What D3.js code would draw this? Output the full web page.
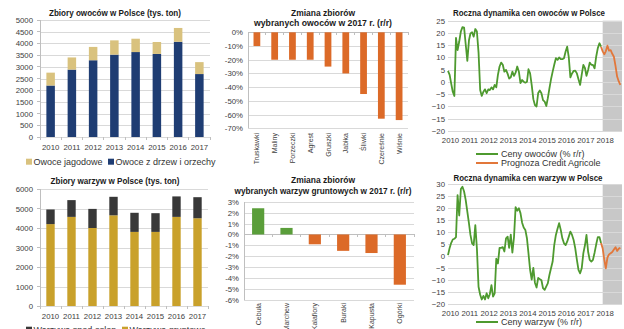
<!DOCTYPE html>
<html>
<head>
<meta charset="utf-8">
<script src="https://cdn.jsdelivr.net/npm/d3@7"></script>
<style>
  body { margin: 0; background: #fff; }
  svg { display: block; font-family: "Liberation Sans", Arial, sans-serif; }
  .grid line { stroke: #d9d9d9; stroke-width: 1; shape-rendering: crispEdges; }
  .grid .domain { display: none; }
  .grid text, .xaxis text { fill: #404040; font-size: 7.8px; }
  .xaxis .domain, .xaxis line { display: none; }
  .title { font-weight: bold; font-size: 9.4px; fill: #1a1a1a; text-anchor: middle; }
  .legend { font-size: 9px; fill: #333; }
  .cat { font-size: 7px; fill: #404040; }
</style>
</head>
<body>
<script>
const W = 624, H = 329;

const years = ["2010", "2011", "2012", "2013", "2014", "2015", "2016", "2017"];

// zbiory, tys. ton
const fruitTrees   = [2200, 2880, 3280, 3520, 3630, 3550, 4070, 2690];
const fruitBerries = [550, 520, 570, 610, 570, 510, 590, 510];
const vegField     = [4200, 4570, 4000, 4650, 3800, 3800, 4570, 4500];
const vegCovered   = [750, 860, 980, 950, 980, 960, 1050, 1080];

// zmiana zbiorów 2017 r/r, %
const fruitKinds  = ["Truskawki", "Maliny", "Porzeczki", "Agrest", "Gruszki", "Jabłka", "Śliwki", "Czereśnie", "Wiśnie"];
const fruitChange = [-10, -20, -20, -20, -25, -30, -45, -63, -64];
const vegKinds  = ["Cebula", "Marchew", "Kalafiory", "Buraki", "Kapusta", "Ogórki"];
const vegChange = [2.4, 0.6, -0.9, -1.5, -1.7, -4.6];

// ceny % r/r, miesięcznie od stycznia 2010
const fruitPrice = [
  4.5, 2.9, -0.5, -4, -5.7, 18, 13, 16.5, 20.6, 22.4, 22.2, 15.5,
  8.6, 17, 19.8, 20.3, 18.5, 21.6, 20.6, 12, -3.3, -5.7, -4, -3,
  -4.6, -3, -3.3, -2.2, -3, -1.2, -2.2, 2.9, 6.3, 7.9, 7, 4.2,
  4.9, 3.3, 1.4, 1.9, 4.2, 2.5, 3.8, 6.3, 4.2, -0.5, 0.8, 0.1,
  -0.3, 0.1, 5.2, 3.5, -1.2, -7, -9.4, -10, -4.5, -3.5, -4.6, -7.4,
  -8, -9.8, -6.7, -2.6, 1.1, 4.2, 7, 9.7, 9, 10, 9.3, 9.3,
  9.7, 12.4, 14.4, 10, 1.9, 3.5, 4.5, 4.6, 3.5, 1.1, -1.2, 3,
  7, 5.6, 2.5, 4.9, 7.9, 7, 7, 5.6, 10.4, 13.8, 15.8, 14.4
];
const fruitForecast = [12.5, 11.3, 12.5, 14.8, 12.8, 13, 11.5, 10.3, 6.5, 2.2, 0.2, -1.2];

const vegPrice = [
  0.5, 3.5, 5.5, 7, 7.3, 8, 25.5, 17, 28, 29, 27, 23.5,
  18.6, 13.7, 8.9, 5.4, 4.7, 13, 3.3, -12.7, -16, -18, -16.5, -18,
  -15.4, -17.5, -15.8, -12, -16.8, -15.4, -1, -3, 3.5, 3.5, 3.8, 2,
  7.5, 8.2, 3.5, 9, 1.5, 8, 20.5, 19, 20, 18, 14, 12,
  11, 7.4, 1.3, -5.6, -9.7, -4.8, -11, -13, -9, -9.5, -10, -13.3,
  -14, -12.5, -11.3, -7.8, -5, -2.2, 4.7, 8.9, 11.5, 13.8, 11, 7.5,
  5.4, 4.7, 6.1, 8.2, 10.3, 8.9, 6.8, 3.3, -1.5, -5.7, -7.1, -5,
  1.3, 4.7, 8.9, 1.9, -1.5, -2.2, -1.5, 1.5, 5, 8, 8, 5.5
];
const vegForecast = [3.3, -1.5, -5, -0.5, 0.8, 1.3, 1.8, 2.8, 3.8, 2.2, 3.2, 3.5];

const months = d3.timeMonth.range(new Date(2010, 0, 1), new Date(2018, 0, 1));
const forecastMonths = d3.timeMonth.range(new Date(2018, 0, 1), new Date(2019, 0, 1));

const NAVY = "#1f3d73", TAN = "#d9c27e", COAL = "#383838", GOLD = "#c9a12b";
const ORANGE = "#dc6a28", GREEN = "#5a9e3a", LINE_GREEN = "#4e9a2f", LINE_ORANGE = "#e2773a";

const svg = d3.select("body").append("svg")
  .attr("width", W)
  .attr("height", H);

// titles are squeezed to a fixed width to keep the condensed look
function title(lines, widths, cx, y0) {
  lines.forEach((t, i) => {
    svg.append("text").attr("class", "title")
      .attr("x", cx).attr("y", y0 + i * 10.5)
      .attr("textLength", widths[i]).attr("lengthAdjust", "spacingAndGlyphs")
      .text(t);
  });
}

// stacked column chart of yearly harvest
function harvestChart(o) {
  const x = d3.scaleBand().domain(years).range([o.left, o.right])
    .paddingInner(0.6).paddingOuter(0.3);
  const y = d3.scaleLinear().domain([0, o.max]).range([o.bottom, o.top]);

  svg.append("g").attr("class", "grid")
    .attr("transform", `translate(${o.left},0)`)
    .call(d3.axisLeft(y).tickValues(d3.range(0, o.max + 1, o.step))
      .tickSize(-(o.right - o.left)).tickPadding(7).tickFormat(d3.format("d")));

  // axis line on the left with small ticks
  const ax = svg.append("g").attr("stroke", "#bfbfbf").attr("shape-rendering", "crispEdges");
  ax.append("line").attr("x1", o.left).attr("x2", o.left).attr("y1", o.top).attr("y2", o.bottom);
  ax.selectAll(".yt").data(d3.range(0, o.max + 1, o.step)).join("line")
    .attr("x1", o.left - 3).attr("x2", o.left).attr("y1", d => y(d)).attr("y2", d => y(d));
  ax.selectAll(".xt").data(d3.range(years.length + 1)).join("line")
    .attr("x1", i => o.left + i * x.step()).attr("x2", i => o.left + i * x.step())
    .attr("y1", o.bottom).attr("y2", o.bottom + 3);

  const rows = years.map((yr, i) => ({ year: yr, base: o.base[i], extra: o.extra[i] }));
  const series = d3.stack().keys(["base", "extra"])(rows);

  svg.append("g").selectAll("g").data(series).join("g")
    .attr("fill", (d, i) => i ? o.extraColor : o.baseColor)
    .selectAll("rect").data(d => d).join("rect")
    .attr("x", d => x(d.data.year))
    .attr("width", x.bandwidth())
    .attr("y", d => y(d[1]))
    .attr("height", d => y(d[0]) - y(d[1]));

  svg.append("g").attr("class", "xaxis")
    .attr("transform", `translate(0,${o.bottom})`)
    .call(d3.axisBottom(x).tickSize(0).tickPadding(7));

  title([o.title], [o.titleW], o.titleX, o.titleY);

  o.legend.forEach(l => {
    svg.append("rect").attr("x", l.x).attr("y", o.legendY - 6.3)
      .attr("width", 6).attr("height", 6).attr("fill", l.color);
    svg.append("text").attr("class", "legend")
      .attr("x", l.x + 7.5).attr("y", o.legendY).text(l.label);
  });
}

// column chart of change in harvest, categories rotated
function changeChart(o) {
  const x = d3.scaleBand().domain(o.kinds).range([o.left, o.right])
    .paddingInner(o.pad).paddingOuter(o.pad / 2);
  const y = d3.scaleLinear().domain([o.min, o.max]).range([o.bottom, o.top]);

  svg.append("g").attr("class", "grid")
    .attr("transform", `translate(${o.left},0)`)
    .call(d3.axisLeft(y).tickValues(d3.range(o.min, o.max + 0.001, o.step))
      .tickSize(-(o.right - o.left)).tickPadding(5).tickFormat(d => `${d}%`));

  const ax = svg.append("g").attr("stroke", "#bfbfbf").attr("shape-rendering", "crispEdges");
  ax.append("line").attr("x1", o.left).attr("x2", o.left).attr("y1", o.top).attr("y2", o.bottom);
  ax.append("line").attr("x1", o.left).attr("x2", o.right).attr("y1", y(0)).attr("y2", y(0));
  ax.selectAll(".xt").data(d3.range(o.kinds.length + 1)).join("line")
    .attr("x1", i => o.left + i * x.step()).attr("x2", i => o.left + i * x.step())
    .attr("y1", y(0)).attr("y2", y(0) + 3);

  svg.append("g").selectAll("rect").data(o.values).join("rect")
    .attr("x", (d, i) => x(o.kinds[i]))
    .attr("width", x.bandwidth())
    .attr("y", d => y(Math.max(0, d)))
    .attr("height", d => Math.abs(y(d) - y(0)))
    .attr("fill", d => d >= 0 ? GREEN : ORANGE);

  svg.append("g").selectAll("text").data(o.kinds).join("text")
    .attr("class", "cat")
    .attr("text-anchor", "end")
    .attr("transform", d => `translate(${x(d) + x.bandwidth() / 2 + 2.5},${o.labelY}) rotate(-90)`)
    .text(d => d);

  title(o.title, o.titleW, o.titleX, o.titleY);
}

// monthly price dynamics with 2018 forecast
function priceChart(o) {
  const x = d3.scaleTime().domain([new Date(2010, 0, 1), new Date(2019, 0, 1)]).range([448, 622]);
  const y = d3.scaleLinear().domain([o.min, o.max]).range([o.bottom, o.top]);

  svg.append("rect")
    .attr("x", x(new Date(2018, 0, 1))).attr("y", o.top)
    .attr("width", x(new Date(2019, 0, 1)) - x(new Date(2018, 0, 1)))
    .attr("height", o.bottom - o.top)
    .attr("fill", "#c8c8c8");

  svg.append("g").attr("class", "grid")
    .attr("transform", "translate(448,0)")
    .call(d3.axisLeft(y).tickValues(d3.range(o.min, o.max + 1, 5))
      .tickSize(-(622 - 448)).tickPadding(3));

  svg.append("g").attr("class", "xaxis")
    .attr("transform", `translate(2,${o.bottom})`)
    .call(d3.axisBottom(x).tickValues(d3.timeYear.range(new Date(2010, 0, 1), new Date(2019, 0, 1)))
      .tickFormat(d3.timeFormat("%Y")).tickSize(0).tickPadding(6));

  const line = d3.line().x(d => x(d.date)).y(d => y(d.value));
  const actual = months.map((m, i) => ({ date: m, value: o.actual[i] }));
  const forecast = [actual[actual.length - 1]]
    .concat(forecastMonths.map((m, i) => ({ date: m, value: o.forecast[i] })));

  svg.append("path").datum(actual).attr("d", line)
    .attr("fill", "none").attr("stroke", LINE_GREEN).attr("stroke-width", 1.8)
    .attr("stroke-linejoin", "round");
  svg.append("path").datum(forecast).attr("d", line)
    .attr("fill", "none").attr("stroke", LINE_ORANGE).attr("stroke-width", 1.8)
    .attr("stroke-linejoin", "round");

  title([o.title], [o.titleW], o.titleX, o.titleY);

  o.legend.forEach(([c, t], i) => {
    const ly = o.legendY + i * 9;
    svg.append("line").attr("x1", 476).attr("x2", 498).attr("y1", ly).attr("y2", ly)
      .attr("stroke", c).attr("stroke-width", 2);
    svg.append("text").attr("class", "legend").attr("x", 501).attr("y", ly + 3).text(t);
  });
}

harvestChart({
  left: 40, right: 210, top: 20, bottom: 137, max: 5000, step: 500,
  base: fruitTrees, extra: fruitBerries, baseColor: NAVY, extraColor: TAN,
  title: "Zbiory owoców w Polsce (tys. ton)", titleW: 132, titleX: 115, titleY: 16,
  legendY: 165,
  legend: [{ x: 26, color: TAN, label: "Owoce jagodowe" }, { x: 108, color: NAVY, label: "Owoce z drzew i orzechy" }]
});

harvestChart({
  left: 40, right: 208, top: 189, bottom: 306, max: 6000, step: 1000,
  base: vegField, extra: vegCovered, baseColor: GOLD, extraColor: COAL,
  title: "Zbiory warzyw w Polsce (tys. ton)", titleW: 129, titleX: 115, titleY: 183.5,
  legendY: 333,
  legend: [{ x: 26, color: COAL, label: "Warzywa spod osłon" }, { x: 122, color: GOLD, label: "Warzywa gruntowe" }]
});

changeChart({
  kinds: fruitKinds, values: fruitChange,
  left: 248, right: 408, top: 32.3, bottom: 128.3, min: -70, max: 0, step: 10, pad: 0.62,
  labelY: 133,
  title: ["Zmiana zbiorów", "wybranych owoców w 2017 r. (r/r)"], titleW: [64, 138],
  titleX: 323, titleY: 15.5
});

changeChart({
  kinds: vegKinds, values: vegChange,
  left: 244, right: 414, top: 201.7, bottom: 300, min: -6, max: 3, step: 1, pad: 0.57,
  labelY: 303,
  title: ["Zmiana zbiorów", "wybranych warzyw gruntowych w 2017 r. (r/r)"], titleW: [64, 177],
  titleX: 323, titleY: 183
});

priceChart({
  top: 20.7, bottom: 131, min: -20, max: 25,
  actual: fruitPrice, forecast: fruitForecast,
  title: "Roczna dynamika cen owoców w Polsce", titleW: 152, titleX: 529, titleY: 16,
  legendY: 154,
  legend: [[LINE_GREEN, "Ceny owoców (% r/r)"], [LINE_ORANGE, "Prognoza Credit Agricole"]]
});

priceChart({
  top: 184.3, bottom: 304.3, min: -20, max: 30,
  actual: vegPrice, forecast: vegForecast,
  title: "Roczna dynamika cen warzyw w Polsce", titleW: 149, titleX: 528, titleY: 181,
  legendY: 322,
  legend: [[LINE_GREEN, "Ceny warzyw (% r/r)"]]
});
</script>
</body>
</html>
